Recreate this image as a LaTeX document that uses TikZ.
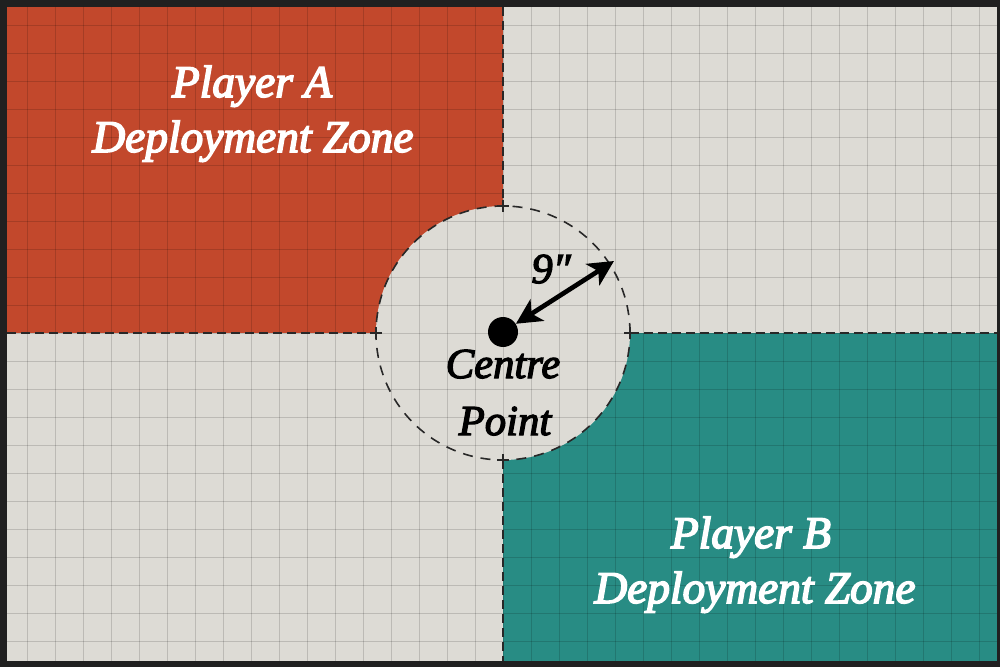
\documentclass[tikz,border=0pt]{standalone}
\usepackage{fontspec}
\setmainfont{Liberation Serif}
\newfontfamily\zoneit[FakeBold=3.5]{Liberation Serif Italic}
\newfontfamily\centreit[FakeBold=3]{Liberation Serif Italic}
\usetikzlibrary{arrows.meta}
\definecolor{redzone}{RGB}{194,72,44}
\definecolor{tealzone}{RGB}{40,140,132}
\definecolor{paper}{RGB}{221,219,213}
\definecolor{framedark}{RGB}{32,32,32}
\definecolor{lineink}{RGB}{40,40,40}
\begin{document}
\begin{tikzpicture}[x=0.75pt,y=-0.75pt,
  zonetext/.style={text=white,font=\fontsize{34}{41}\selectfont\zoneit,anchor=base,inner sep=0pt},
  centretext/.style={text=black,font=\fontsize{32}{40}\selectfont\centreit,anchor=base,inner sep=0pt},
  boundary/.style={draw=lineink,line width=1.5pt,dash pattern=on 6.75pt off 3.75pt},
  ring/.style={draw=lineink,line width=1.2pt,dash pattern=on 7.5pt off 6pt},
  tick/.style={draw=lineink,line width=1.2pt},
  gridline/.style={draw=black,opacity=0.15,line width=0.6pt},
  dot/.style={circle,fill=black,minimum size=22.5pt,inner sep=0pt},
  measure/.style={line width=3.5pt,{Stealth[length=19pt,width=19pt,inset=5pt]}-{Stealth[length=19pt,width=19pt,inset=5pt]}}]
\useasboundingbox (0,0) rectangle (1000,667);
% frame and board
\fill[framedark] (0,0) rectangle (1000,667);
\fill[paper] (7,7) rectangle (997,661);
\fill[redzone] (7,7) rectangle (503,333);
\fill[tealzone] (503,333) rectangle (997,661);
\fill[paper] (503,333) circle[radius=95.25pt];
% grid
\begin{scope}
\clip (7,7) rectangle (997,661);
\foreach \gx in {27,55,...,999} \draw[gridline] (\gx,7) -- (\gx,661);
\foreach \gy in {25,53,...,669} \draw[gridline] (7,\gy) -- (997,\gy);
\end{scope}
% boundaries
\coordinate (ctop) at (503,206);
\coordinate (cbot) at (503,460);
\coordinate (cleft) at (376,333);
\coordinate (cright) at (630,333);
\coordinate (btop) at (503,7);
\coordinate (bbot) at (503,661);
\coordinate (bleft) at (7,333);
\coordinate (bright) at (997,333);
\draw[boundary] (btop) -- (ctop);
\draw[boundary] (cbot) -- (bbot);
\draw[boundary] (bleft) -- (cleft);
\draw[boundary] (cright) -- (bright);
\draw[ring] (503,333) circle[radius=95.25pt];
\foreach \p in {ctop,cbot,cleft,cright}
  \draw[tick] ([xshift=-4.5pt]\p) -- ([xshift=4.5pt]\p) ([yshift=-4.5pt]\p) -- ([yshift=4.5pt]\p);
% centre point and radius
\node[dot] (cp) at (503,332) {};
\coordinate (rim) at (614,261);
\draw[measure] (cp) -- (rim);
\node[centretext] (nine) at (551,283) {9″};
\node[centretext] (c1) at (503,378) {Centre};
\node[centretext] (c2) at (505,435) {Point};
% zone labels
\node[zonetext] (pa1) at (252,97) {Player A};
\node[zonetext] (pa2) at (253,152) {Deployment Zone};
\node[zonetext] (pb1) at (751,548) {Player B};
\node[zonetext] (pb2) at (755,603) {Deployment Zone};
\end{tikzpicture}
\end{document}
